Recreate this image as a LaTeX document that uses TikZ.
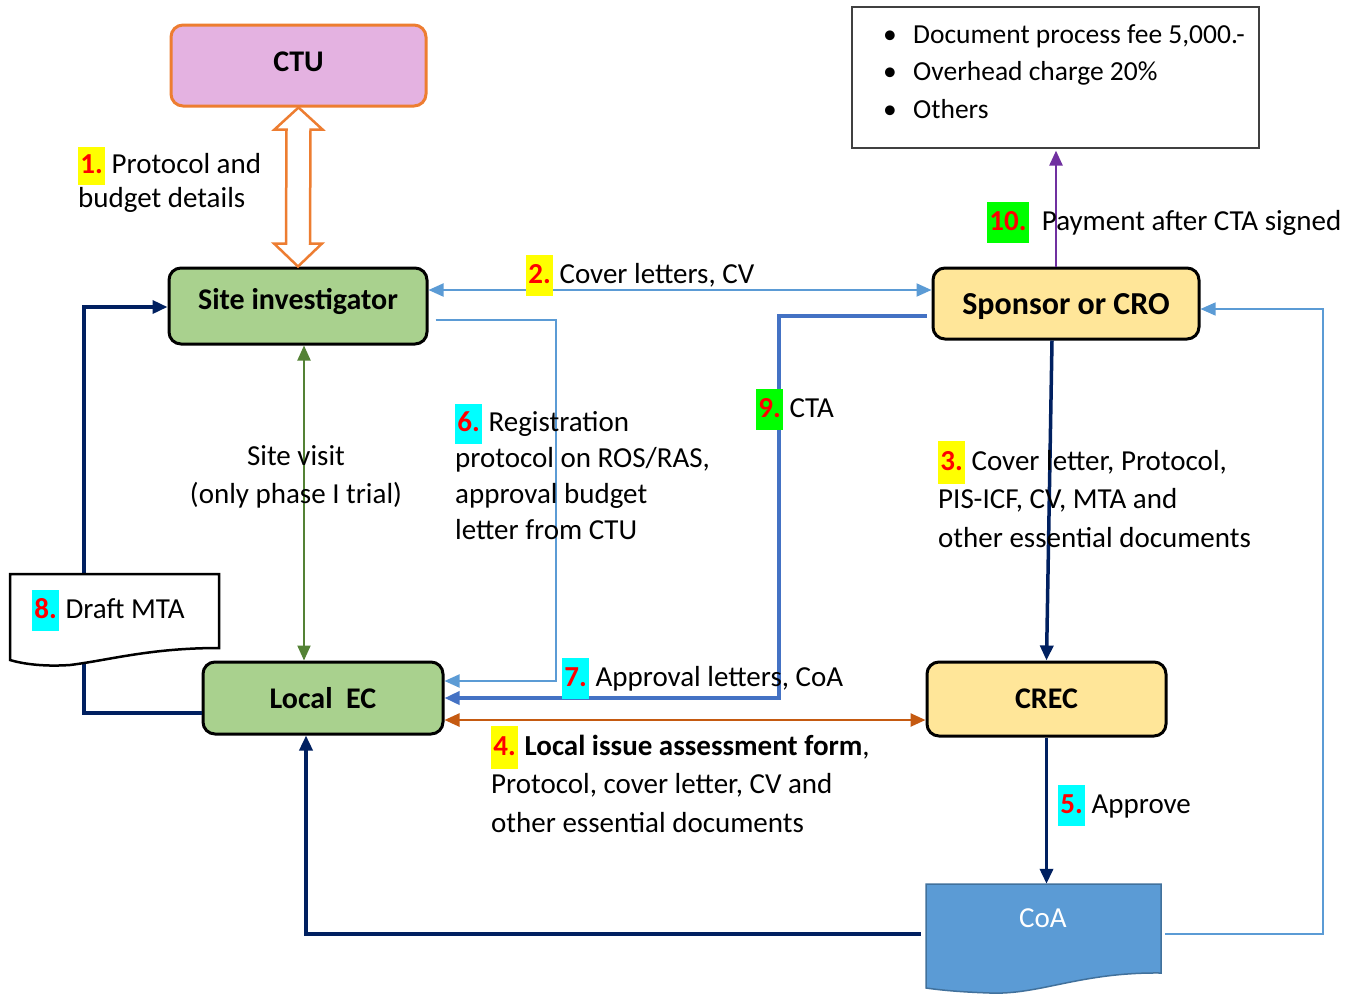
\documentclass[tikz,border=0pt]{standalone}
\usepackage{fontspec}
\setmainfont{Carlito}
\usetikzlibrary{arrows.meta,calc}
\definecolor{ctufill}{HTML}{E4B2E1}
\definecolor{ctuborder}{HTML}{ED7D31}
\definecolor{greenfill}{HTML}{A9D18E}
\definecolor{yellowfill}{HTML}{FFE699}
\definecolor{lightblue}{HTML}{5B9BD5}
\definecolor{midblue}{HTML}{4472C4}
\definecolor{navy}{HTML}{002060}
\definecolor{darkorange}{HTML}{C55A11}
\definecolor{darkgreen}{HTML}{548235}
\definecolor{purpleline}{HTML}{7030A0}
\definecolor{coafill}{HTML}{5B9BD5}
\definecolor{coaborder}{HTML}{41719C}
\definecolor{hlyellow}{HTML}{FFFF00}
\definecolor{hlcyan}{HTML}{00FFFF}
\definecolor{hlgreen}{HTML}{00FF00}
\definecolor{numred}{HTML}{FF0000}
\newcommand\numtag[2]{{\setlength{\fboxsep}{2.2pt}\colorbox{#1}{\strut\textcolor{numred}{\bfseries #2}}}}
\begin{document}
\begin{tikzpicture}[x=1pt,y=-1pt,
  font=\fontsize{29}{37}\selectfont,
  stagebox/.style={rounded corners=12pt, line width=3pt, draw=black, inner sep=0pt,
    font=\fontsize{30}{36}\selectfont\bfseries},
  tip/.style={-{Triangle[length=15pt,width=13pt]}},
  tips/.style={{Triangle[length=15pt,width=13pt]}-{Triangle[length=15pt,width=13pt]}},
  lbline/.style={draw=lightblue, line width=2pt},
  label/.style={anchor=base west, align=left, inner sep=0pt},
]
\useasboundingbox (0,0) rectangle (1356,994);
\fill[white] (0,0) rectangle (1356,994);

% boxes
\node[stagebox, fill=ctufill, draw=ctuborder, minimum width=255pt, minimum height=81pt, text depth=8pt] (ctu) at (298.5,65.5) {CTU};
\node[stagebox, fill=greenfill, minimum width=258pt, minimum height=76pt, text depth=14pt] (site) at (298,306) {Site investigator};
\node[stagebox, fill=yellowfill, minimum width=266pt, minimum height=71pt, text height=28pt, font=\fontsize{32}{38}\selectfont\bfseries] (sponsor) at (1066,303.5) {Sponsor or CRO};
\node[stagebox, fill=greenfill, minimum width=240pt, minimum height=72pt] (localec) at (323,698) {Local\ \ EC};
\node[stagebox, fill=yellowfill, minimum width=239pt, minimum height=74pt] (crec) at (1046.5,699) {CREC};
\node[draw=black!75, line width=1.2pt, minimum width=407pt, minimum height=141pt, inner sep=0pt] (fees) at (1055.5,77.5) {};
\node[label, font=\fontsize{27.5}{37.5}\selectfont] (feestext) at (883,118)
  {\makebox[30pt][l]{\textbullet}Document process fee 5,000.-\\
   \makebox[30pt][l]{\textbullet}Overhead charge 20\%\\
   \makebox[30pt][l]{\textbullet}Others};

% hollow double arrow CTU <-> Site investigator
\draw[draw=ctuborder, fill=white, line width=2.5pt, line join=miter]
  (ctu.south) -- ++(24,22) -- ++(-12,0) -- ($(site.north)+(12,-23)$) -- ++(12,0)
  -- (site.north) -- ++(-24,-23) -- ++(12,0) -- ($(ctu.south)+(-12,22)$) -- ++(-12,0) -- cycle;

% 8: Local EC -> Site investigator (behind Draft MTA)
\coordinate (k8) at (84,500);
\draw[navy, line width=3.5pt, tip] ([yshift=-15]localec.west) -| (k8) |- ([yshift=-1]site.west);

% Draft MTA document
\draw[fill=white, line width=2.5pt] (10,574) -- (219,574) -- (219,648)
  .. controls (150,648) and (110,660) .. (70,665) .. controls (40,667) and (20,663) .. (10,660) -- cycle;
\node[label] (mtatext) at (32,618) {\numtag{hlcyan}{8.} Draft MTA};

% CoA document
\node[minimum width=235pt, minimum height=90pt, inner sep=0pt] (coa) at (1043.5,929) {};
\draw[fill=coafill, draw=coaborder, line width=1.5pt] (926,884) -- (1161,884) -- (1161,973)
  .. controls (1080,972) and (1040,995) .. (990,993) .. controls (960,992) and (940,990) .. (926,988) -- cycle;
\node[anchor=base, text=white, inner sep=0pt] (coatext) at (1043,927) {CoA};

% 2: Site investigator <-> Sponsor
\draw[lbline, tips] ([yshift=16]site.east) -- ([yshift=13.5]sponsor.west);
% 6: Site investigator -> Local EC
\coordinate (k6) at (556,500);
\draw[lbline, tip] ([xshift=7,yshift=-14]site.east) -| (k6) |- ([yshift=17]localec.east);
% 9: Sponsor -> Local EC
\coordinate (k9) at (779,500);
\draw[midblue, line width=3.5pt, tip] ([xshift=-5,yshift=-12.5]sponsor.west) -| (k9) |- (localec.east);
% 4: Local EC <-> CREC
\draw[darkorange, line width=2.5pt, tips] ([yshift=-22]localec.east) -- ([yshift=-21]crec.west);
% site visit
\draw[darkgreen, line width=2pt, tips] ([xshift=6]site.south) -- ([xshift=-19]localec.north);
% 3: Sponsor -> CREC
\draw[navy, line width=3.5pt, tip] ([xshift=-14]sponsor.south) -- (crec.north);
% 5: CREC -> CoA
\draw[navy, line width=3.5pt, tip] (crec.south) -- ([xshift=3]coa.north);
% CoA -> Local EC
\draw[navy, line width=3.5pt, tip] ([xshift=-5,yshift=-5]coa.west) -| ([xshift=-17]localec.south);
% CoA -> Sponsor
\coordinate (k11) at (1323,600);
\draw[draw=lightblue, line width=1.3pt, tip] ([xshift=4,yshift=-5]coa.east) -| (k11) |- ([yshift=-5.5]sponsor.east);
% 10: Sponsor -> fees
\draw[purpleline, line width=2.5pt, tip] ([xshift=-10]sponsor.north) -- ([xshift=0.5,yshift=-2]fees.south);

% labels (base anchor = baseline of last line)
\node[label, font=\fontsize{29}{34}\selectfont] (l1) at (78,207) {\numtag{hlyellow}{1.} Protocol and\\budget details};
\node[label] (l10) at (987,230) {\numtag{hlgreen}{10.}\ \ Payment after CTA signed};
\node[label] (l2) at (526,283) {\numtag{hlyellow}{2.} Cover letters, CV};
\node[label, font=\fontsize{29}{36}\selectfont] (l6) at (455,539) {\numtag{hlcyan}{6.} Registration\\protocol on ROS/RAS,\\approval budget\\letter from CTU};
\node[label] (l9) at (756,417) {\numtag{hlgreen}{9.} CTA};
\node[label, font=\fontsize{29}{38.5}\selectfont] (l3) at (938,547) {\numtag{hlyellow}{3.} Cover letter, Protocol,\\PIS-ICF, CV, MTA and\\other essential documents};
\node[anchor=base, align=center, inner sep=0pt, font=\fontsize{29}{38}\selectfont] (lsv) at (296,503) {Site visit\\(only phase I trial)};
\node[label] (l7) at (562,686) {\numtag{hlcyan}{7.} Approval letters, CoA};
\node[label, font=\fontsize{29}{38.5}\selectfont] (l4) at (491,832) {\numtag{hlyellow}{4.} \textbf{Local issue assessment form},\\Protocol, cover letter, CV and\\other essential documents};
\node[label] (l5) at (1058,813) {\numtag{hlcyan}{5.} Approve};
\end{tikzpicture}
\end{document}
